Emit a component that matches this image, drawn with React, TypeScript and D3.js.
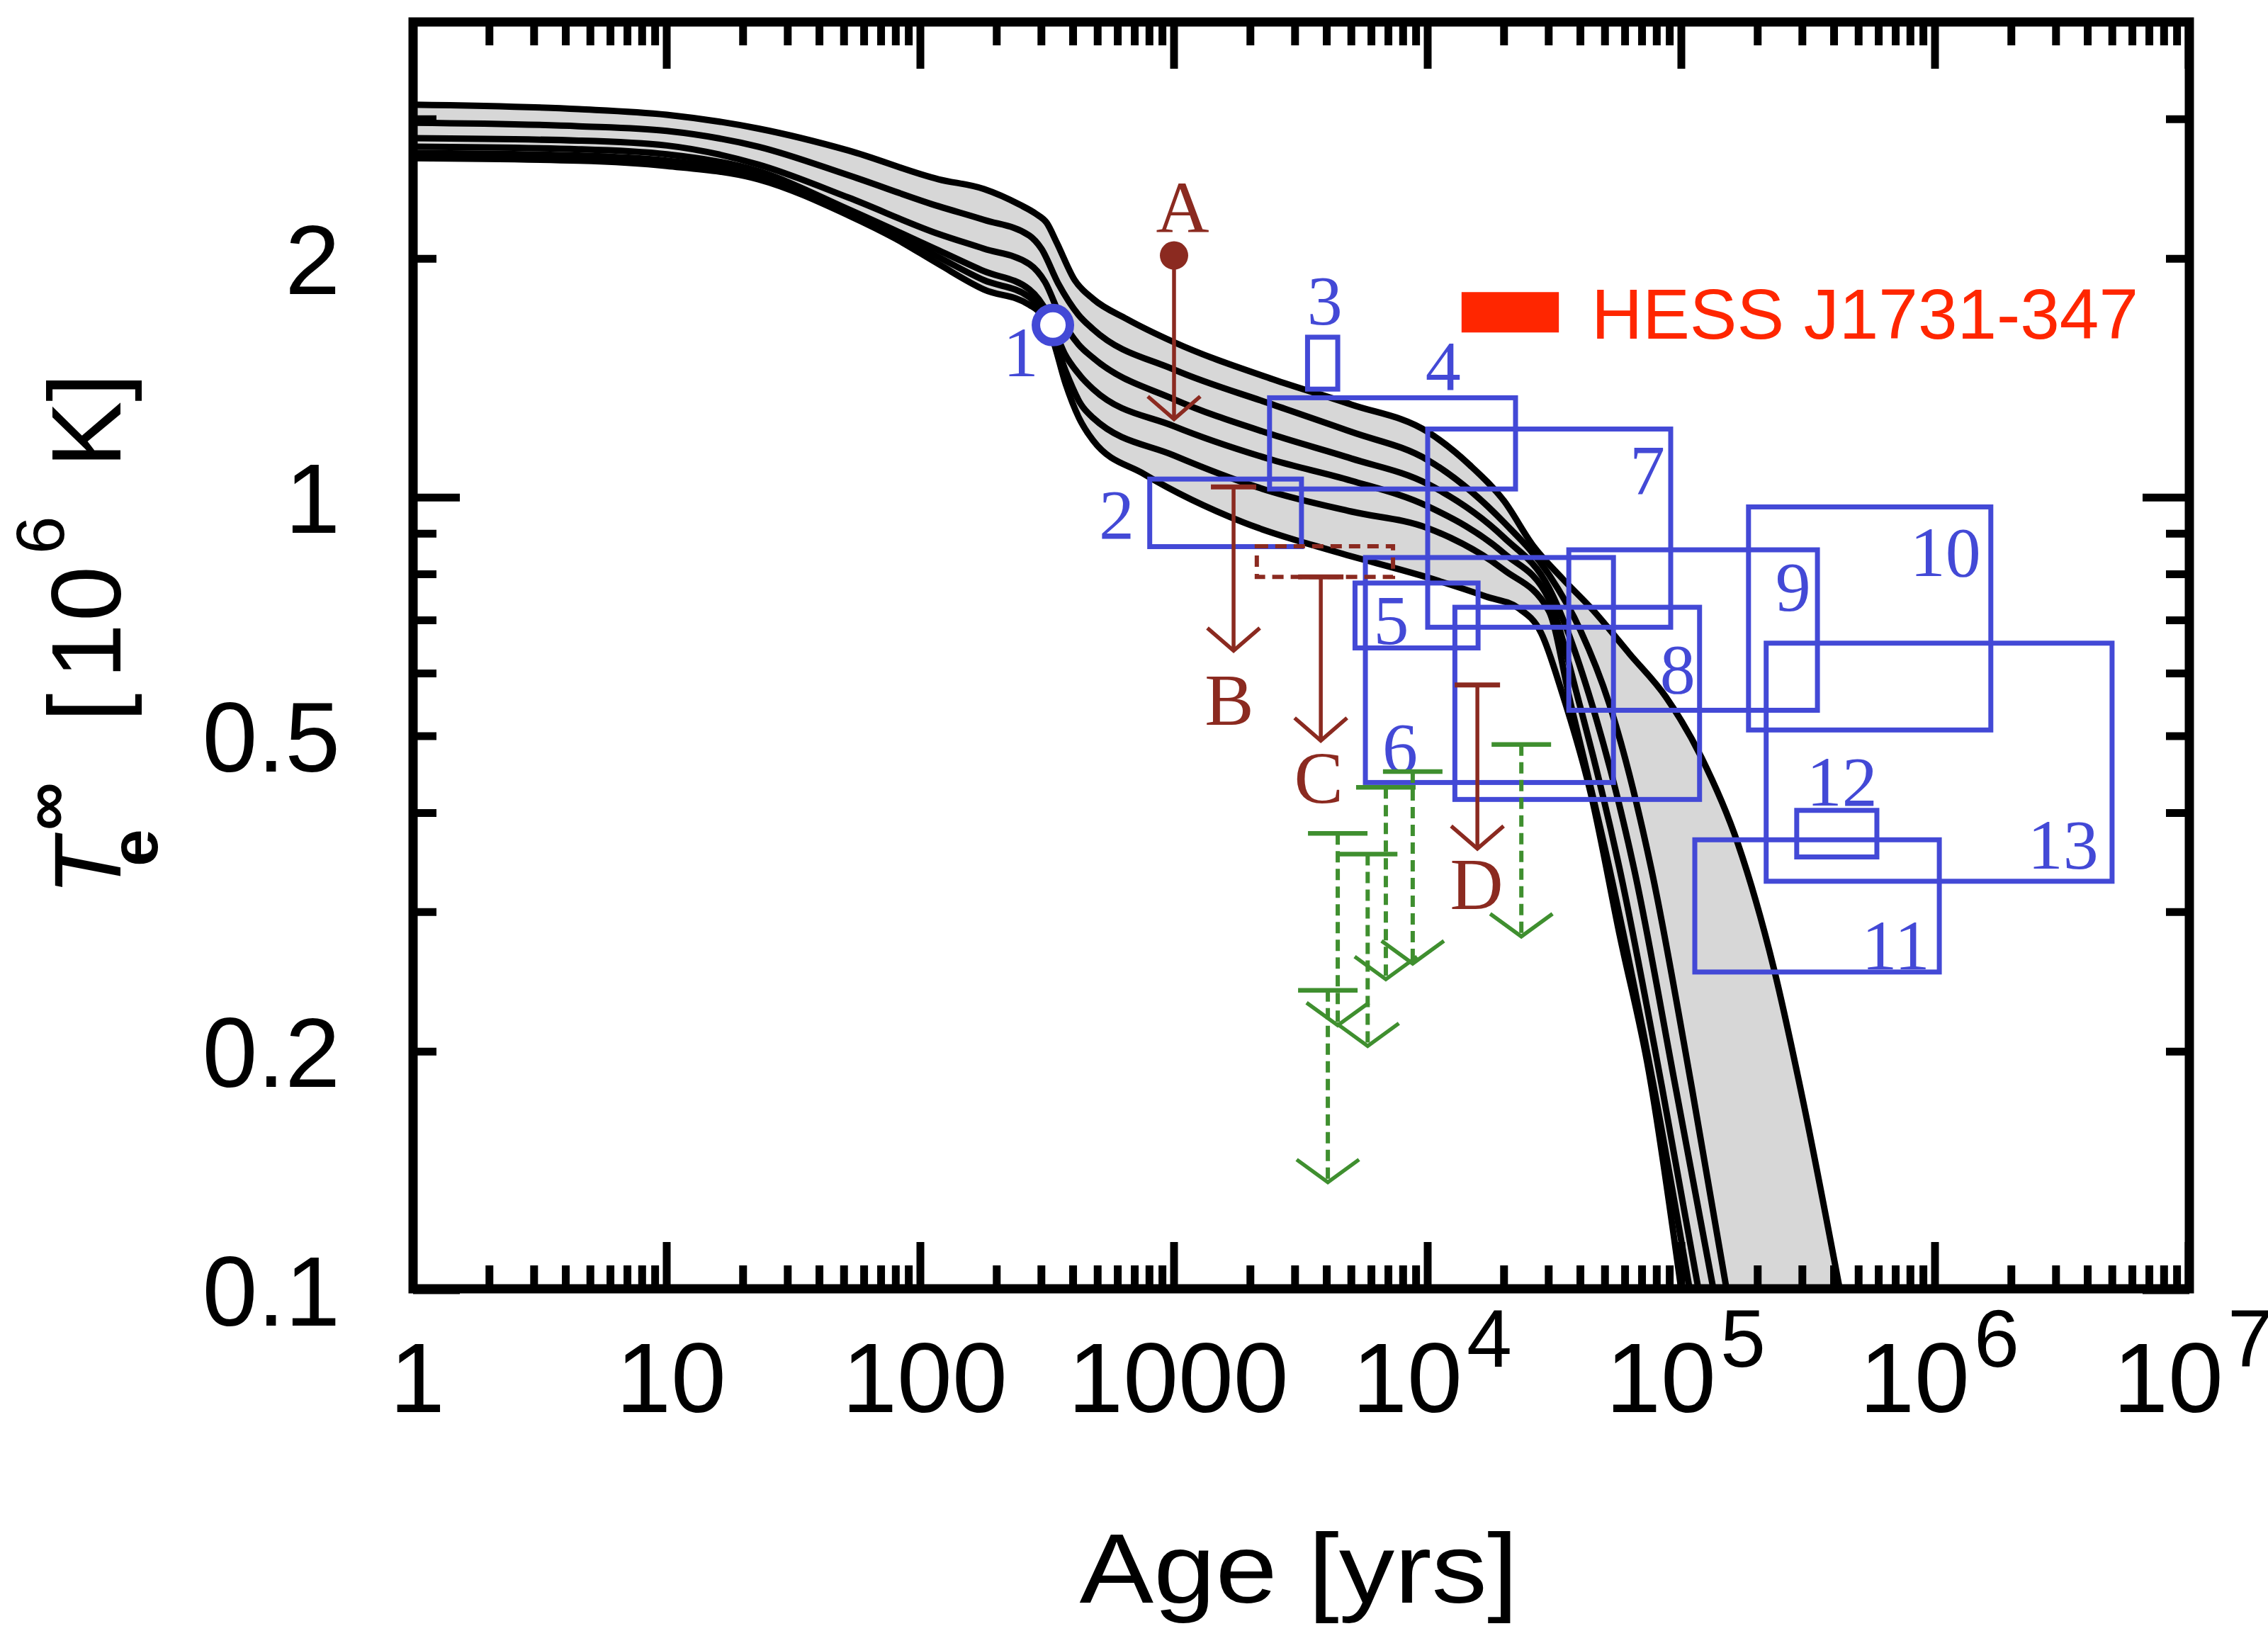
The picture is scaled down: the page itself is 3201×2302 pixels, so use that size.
import React from "react";
import * as d3 from "d3";

type Pt = [number, number];

// Cooling curves: [age in yr, T_e^inf in 10^6 K]
const curveA: Pt[] = [
  [1, 3.13], [4.5, 3.09], [10, 3.04], [23, 2.92], [52, 2.74], [118, 2.52], [178, 2.45],
  [247, 2.34], [285, 2.28], [315, 2.22], [344, 2.1], [406, 1.88], [480, 1.78],
  [650, 1.68], [1000, 1.57], [2450, 1.41], [5000, 1.31], [10000, 1.21],
  [14600, 1.1], [20000, 0.99], [26000, 0.87], [34000, 0.79], [45000, 0.72],
  [62500, 0.635], [87000, 0.56], [120000, 0.47], [167000, 0.366],
  [232000, 0.254], [300000, 0.175], [422000, 0.1],
];
const curveB: Pt[] = [
  [1, 2.97], [4.5, 2.94], [10, 2.9], [23, 2.77], [52, 2.55], [118, 2.33], [178, 2.24],
  [269, 2.14], [300, 2.06], [350, 1.86], [420, 1.7], [480, 1.63], [1000, 1.45],
  [2450, 1.31], [5000, 1.21], [10000, 1.115], [20000, 0.93], [30000, 0.8],
  [40000, 0.68], [51900, 0.55], [76000, 0.341], [110000, 0.18], [151000, 0.1],
];
const curveC: Pt[] = [
  [1, 2.84], [4.5, 2.82], [10, 2.78], [23, 2.63], [52, 2.39], [118, 2.15], [178, 2.06],
  [269, 1.97], [310, 1.87], [360, 1.68], [420, 1.56], [480, 1.5], [1000, 1.33],
  [2450, 1.2], [5000, 1.12], [10000, 1.04], [20000, 0.89], [30000, 0.77],
  [44300, 0.55], [65000, 0.341], [95000, 0.18], [134000, 0.1],
];
const curveD: Pt[] = [
  [1, 2.77], [4.5, 2.75], [10, 2.71], [23, 2.58], [52, 2.31], [118, 2.05], [178, 1.93],
  [269, 1.83], [320, 1.7], [370, 1.52], [430, 1.42], [480, 1.37], [1000, 1.23],
  [2450, 1.115], [5000, 1.05], [10000, 0.975], [20000, 0.85], [30000, 0.745],
  [39600, 0.55], [57000, 0.341], [84000, 0.18], [117000, 0.1],
];
const curveE: Pt[] = [
  [1, 2.72], [4.5, 2.7], [10, 2.66], [23, 2.55], [52, 2.29], [118, 2.01], [178, 1.88],
  [269, 1.79], [325, 1.64], [375, 1.44], [430, 1.31], [480, 1.26], [1000, 1.13],
  [2450, 1.016], [5000, 0.96], [10000, 0.915], [20000, 0.81], [30000, 0.72],
  [36600, 0.55], [52000, 0.341], [78000, 0.18], [108000, 0.1],
];
const curveF: Pt[] = [
  [1, 2.68], [4.5, 2.66], [10, 2.62], [23, 2.52], [52, 2.27], [80, 2.12], [118, 1.97],
  [178, 1.83], [269, 1.75], [300, 1.7], [331, 1.59], [374, 1.39], [422, 1.26],
  [480, 1.18], [764, 1.07], [1880, 0.93], [4280, 0.855], [9700, 0.795],
  [17000, 0.75], [22800, 0.725], [28000, 0.675], [34000, 0.565], [44200, 0.42],
  [57200, 0.28], [74400, 0.189], [100000, 0.1],
];
const coolingCurves: Pt[][] = [curveA, curveB, curveC, curveD, curveE, curveF];

// Sources with age and temperature ranges (boxes)
const sourceBoxes = [
  { id: "2", ages: [802, 3180], temps: [0.867, 1.055], labelAt: [594, 0.954] },
  { id: "3", ages: [3360, 4420], temps: [1.37, 1.593], labelAt: [3930, 1.778] },
  { id: "4", ages: [2380, 22200], temps: [1.025, 1.336], labelAt: [11500, 1.47] },
  { id: "5", ages: [5170, 15800], temps: [0.646, 0.78], labelAt: [7180, 0.702] },
  { id: "6", ages: [5680, 54000], temps: [0.437, 0.84], labelAt: [7780, 0.485] },
  { id: "7", ages: [10000, 90800], temps: [0.686, 1.22], labelAt: [73400, 1.087] },
  { id: "8", ages: [12800, 118000], temps: [0.416, 0.727], labelAt: [96700, 0.609] },
  { id: "9", ages: [36000, 344000], temps: [0.539, 0.859], labelAt: [276000, 0.774] },
  { id: "10", ages: [184000, 1660000], temps: [0.509, 0.973], labelAt: [1100000, 0.856] },
  { id: "11", ages: [113000, 1040000], temps: [0.252, 0.37], labelAt: [700000, 0.273] },
  { id: "12", ages: [285000, 590000], temps: [0.352, 0.403], labelAt: [430000, 0.439] },
  { id: "13", ages: [216000, 4990000], temps: [0.328, 0.655], labelAt: [3200000, 0.366] },
];

// Source 1: single measurement
const pointSource = { id: "1", age: 333, temp: 1.65, labelAt: [249, 1.53] };

// Upper limits (A-D)
const brownLimits = [
  { id: "A", age: 1000, temp: 2.02, marker: "dot", labelAt: [1080, 2.33] },
  { id: "B", age: 1717, temp: 1.031, marker: "bar", labelAt: [1650, 0.557] },
  { id: "C", age: 3790, temp: 0.794, marker: "bar", labelAt: [3720, 0.444] },
  { id: "D", age: 15700, temp: 0.58, marker: "bar", labelAt: [15600, 0.326] },
];
const rangeCAges = [2120, 7300];
const rangeCTemps = [0.794, 0.868];

// Further upper limits (dashed)
const greenAges = [23400, 8730, 6840, 4420, 5800, 4040];
const greenTemps = [0.488, 0.451, 0.431, 0.377, 0.355, 0.239];

// HESS J1731-347
const hessAges = [13600, 32900];
const hessTemps = [1.615, 1.816];
const hessName = "HESS J1731-347";

// Axes
const xDecades = [0, 1, 2, 3, 4, 5, 6, 7];
const yLabelValues = [0.1, 0.2, 0.5, 1, 2];
const yLabelTexts = ["0.1", "0.2", "0.5", "1", "2"];
const yMinorValues = [0.2, 0.3, 0.4, 0.5, 0.6, 0.7, 0.8, 0.9, 2, 3];
const yMajorValues = [0.1, 1];

const W = 3201;
const H = 2302;
const L = 583;
const R = 3090;
const T = 31;
const B = 1819;
const TEMP_MAX = 3.98;

const BLUE = "#4349d6";
const BROWN = "#8b2a20";
const GREEN = "#3f8f2f";
const RED = "#ff2600";
const SANS = "'Liberation Sans', Arial, Helvetica, sans-serif";
const SERIF = "'Liberation Serif', 'Times New Roman', serif";

export default function App() {
  const x = d3.scaleLog().domain([1, 1e7]).range([L, 3089]);
  const y = d3.scaleLog().domain([0.1, TEMP_MAX]).range([1821, T]);

  const line = d3
    .line<Pt>()
    .x((d) => x(d[0]))
    .y((d) => y(d[1]))
    .curve(d3.curveMonotoneX);

  const closeBelow = (pts: Pt[]) => {
    const p = line(pts) as string;
    const last = pts[pts.length - 1];
    return `${p}L${x(last[0])},${B + 20}L${L - 20},${B + 20}L${L - 20},${y(pts[0][1])}Z`;
  };

  const xMinor: number[] = [];
  for (let d = 0; d < 7; d++) for (let m = 2; m <= 9; m++) xMinor.push(m * Math.pow(10, d));
  const xMajor = xDecades.map((d) => Math.pow(10, d));

  const majorLen = 66;
  const minorLen = 33;
  const tickW = 11;

  const brownArrow = 231;
  const greenArrow = 271;

  return (
    <svg
      width={W}
      height={H}
      viewBox={`0 0 ${W} ${H}`}
      style={{ position: "absolute", left: 0, top: 0, background: "#fff" }}
    >
      <defs>
        <clipPath id="plotClip">
          <rect x={L} y={T} width={R - L} height={B - T} />
        </clipPath>
      </defs>
      <rect x={0} y={0} width={W} height={H} fill="#fff" />

      {/* shaded band between the outer cooling curves */}
      <g clipPath="url(#plotClip)">
        <path d={closeBelow(curveA)} fill="#d7d7d7" />
        <path d={closeBelow(curveF)} fill="#fff" />
        {coolingCurves.map((c, i) => (
          <path key={i} d={line(c) as string} fill="none" stroke="#000" strokeWidth={9} strokeLinejoin="round" />
        ))}
      </g>

      {/* source boxes */}
      {sourceBoxes.map((b) => (
        <g key={b.id}>
          <rect
            x={x(b.ages[0])}
            y={y(b.temps[1])}
            width={x(b.ages[1]) - x(b.ages[0])}
            height={y(b.temps[0]) - y(b.temps[1])}
            fill="none"
            stroke={BLUE}
            strokeWidth={7}
          />
          <text
            x={x(b.labelAt[0])}
            y={y(b.labelAt[1])}
            dy="0.35em"
            textAnchor="middle"
            fontFamily={SERIF}
            fontSize={100}
            fill={BLUE}
          >
            {b.id}
          </text>
        </g>
      ))}

      {/* source 1 */}
      <circle cx={x(pointSource.age)} cy={y(pointSource.temp)} r={24} fill="#fff" stroke={BLUE} strokeWidth={12} />
      <text
        x={x(pointSource.labelAt[0])}
        y={y(pointSource.labelAt[1])}
        dy="0.35em"
        textAnchor="middle"
        fontFamily={SERIF}
        fontSize={100}
        fill={BLUE}
      >
        {pointSource.id}
      </text>

      {/* dashed range for C */}
      <rect
        x={x(rangeCAges[0])}
        y={y(rangeCTemps[1])}
        width={x(rangeCAges[1]) - x(rangeCAges[0])}
        height={y(rangeCTemps[0]) - y(rangeCTemps[1])}
        fill="none"
        stroke={BROWN}
        strokeWidth={6}
        strokeDasharray="16 10"
      />

      {/* upper limits A-D */}
      {brownLimits.map((l) => {
        const cx = x(l.age);
        const cy = y(l.temp);
        const tip = cy + brownArrow;
        return (
          <g key={l.id} stroke={BROWN} strokeWidth={5.5} fill="none">
            <line x1={cx} y1={cy} x2={cx} y2={tip} />
            <path d={`M${cx - 37},${tip - 32}L${cx},${tip}L${cx + 37},${tip - 32}`} />
            {l.marker === "dot" ? (
              <circle cx={cx} cy={cy} r={20} fill={BROWN} stroke="none" />
            ) : (
              <line x1={cx - 32} y1={cy} x2={cx + 32} y2={cy} strokeWidth={7} />
            )}
            <text
              x={x(l.labelAt[0])}
              y={y(l.labelAt[1])}
              dy="0.35em"
              textAnchor="middle"
              fontFamily={SERIF}
              fontSize={104}
              fill={BROWN}
              stroke="none"
            >
              {l.id}
            </text>
          </g>
        );
      })}

      {/* dashed upper limits */}
      {greenAges.map((a, i) => {
        const cx = x(a);
        const cy = y(greenTemps[i]);
        const tip = cy + greenArrow;
        return (
          <g key={i} stroke={GREEN} fill="none">
            <line x1={cx} y1={cy} x2={cx} y2={tip} strokeWidth={6} strokeDasharray="16 9" />
            <line x1={cx - 42} y1={cy} x2={cx + 42} y2={cy} strokeWidth={6.5} />
            <path d={`M${cx - 44},${tip - 32}L${cx},${tip}L${cx + 44},${tip - 32}`} strokeWidth={5.5} />
          </g>
        );
      })}

      {/* HESS J1731-347 */}
      <rect
        x={x(hessAges[0])}
        y={y(hessTemps[1])}
        width={x(hessAges[1]) - x(hessAges[0])}
        height={y(hessTemps[0]) - y(hessTemps[1])}
        fill={RED}
      />
      <text
        x={2246}
        y={478}
        fontFamily={SANS}
        fontSize={101}
        fill={RED}
        textLength={772}
        lengthAdjust="spacingAndGlyphs"
      >
        {hessName}
      </text>

      {/* frame and ticks */}
      <g stroke="#000" strokeWidth={tickW}>
        {xMajor.map((v) => (
          <g key={"xM" + v}>
            <line x1={x(v)} x2={x(v)} y1={B} y2={B - majorLen} />
            <line x1={x(v)} x2={x(v)} y1={T} y2={T + majorLen} />
          </g>
        ))}
        {xMinor.map((v) => (
          <g key={"xm" + v}>
            <line x1={x(v)} x2={x(v)} y1={B} y2={B - minorLen} />
            <line x1={x(v)} x2={x(v)} y1={T} y2={T + minorLen} />
          </g>
        ))}
        {yMajorValues.map((v) => (
          <g key={"yM" + v}>
            <line x1={L} x2={L + majorLen} y1={y(v)} y2={y(v)} />
            <line x1={R} x2={R - majorLen} y1={y(v)} y2={y(v)} />
          </g>
        ))}
        {yMinorValues.map((v) => (
          <g key={"ym" + v}>
            <line x1={L} x2={L + minorLen} y1={y(v)} y2={y(v)} />
            <line x1={R} x2={R - minorLen} y1={y(v)} y2={y(v)} />
          </g>
        ))}
      </g>
      <rect x={L} y={T} width={R - L} height={B - T} fill="none" stroke="#000" strokeWidth={13} />

      {/* x tick labels */}
      {xDecades.map((d) => {
        const v = Math.pow(10, d);
        return (
          <text key={"xl" + d} x={x(v) + 6} y={1993} textAnchor="middle" fontFamily={SANS} fontSize={140} fill="#000">
            {d <= 3 ? (
              String(v)
            ) : (
              <>
                <tspan>10</tspan>
                <tspan dx={6} dy={-64} fontSize={115}>
                  {d}
                </tspan>
              </>
            )}
          </text>
        );
      })}

      {/* y tick labels */}
      {yLabelValues.map((v, i) => (
        <text key={"yl" + v} x={480} y={y(v) + 50} textAnchor="end" fontFamily={SANS} fontSize={140} fill="#000">
          {yLabelTexts[i]}
        </text>
      ))}

      {/* axis titles */}
      <text x={1833} y={2262} textAnchor="middle" fontFamily={SANS} fontSize={140} fill="#000" textLength={619} lengthAdjust="spacingAndGlyphs">
        Age [yrs]
      </text>
      <g transform="translate(170,1264) rotate(-90)" fontFamily={SANS} fill="#000">
        <text x={0} y={0} fontSize={133} fontStyle="italic">T</text>
        <text x={41} y={52} fontSize={95} fontWeight="bold">e</text>
        <text x={92} y={-73} fontSize={95} fontWeight="bold">∞</text>
        <text x={245} y={0} fontSize={145}>[</text>
        <text x={306} y={0} fontSize={140}>1</text>
        <text x={387} y={0} fontSize={140}>0</text>
        <text x={482} y={-80} fontSize={96}>6</text>
        <text x={604} y={0} fontSize={140}>K</text>
        <text x={697} y={0} fontSize={145}>]</text>
      </g>
    </svg>
  );
}
